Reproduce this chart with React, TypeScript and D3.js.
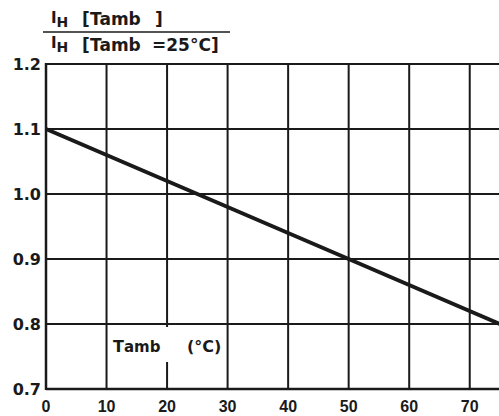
import * as d3 from "d3";

// temperature (°C) vs current ratio
const temps = [0, 25, 50, 75];
const ratio = [1.1, 1.0, 0.9, 0.8];
const xTicks = [0, 10, 20, 30, 40, 50, 60, 70];
const yTicks = [0.7, 0.8, 0.9, 1.0, 1.1, 1.2];

const W = 499;
const H = 416;
const font = "'Liberation Sans', Arial, sans-serif";
const wide = "'DejaVu Sans', sans-serif";

export default function App() {
  const x = d3.scaleLinear().domain([0, 75]).range([46, 500]);
  const y = d3.scaleLinear().domain([0.7, 1.2]).range([389, 64]);

  const line = d3
    .line<number>()
    .x((d, i) => x(temps[i]))
    .y(d => y(d));

  const ink = "#1a1a1a";

  return (
    <svg
      width={W}
      height={H}
      style={{ position: "absolute", left: 0, top: 0, background: "#fff" }}
      fontFamily={font}
      fontWeight={700}
    >
      {/* grid */}
      {xTicks.slice(1).map(t => (
        <line key={"gx" + t} x1={x(t)} x2={x(t)} y1={y(1.2)} y2={y(0.7)} stroke={ink} strokeWidth={2} />
      ))}
      {yTicks.slice(1).map(t => (
        <line key={"gy" + t} x1={x(0)} x2={W} y1={y(t)} y2={y(t)} stroke={ink} strokeWidth={2} />
      ))}
      {/* axes */}
      <line x1={x(0)} x2={x(0)} y1={y(1.2) - 1} y2={y(0.7) + 1} stroke={ink} strokeWidth={2.5} />
      <line x1={x(0)} x2={W} y1={y(0.7)} y2={y(0.7)} stroke={ink} strokeWidth={2.5} />

      {/* axis label box hides part of the grid */}
      <rect x={110} y={327} width={114} height={35} fill="#fff" />
      <text x={113} y={352} fontSize={16} fontFamily={wide} fill={ink}>
        T<tspan fontSize={15}>amb</tspan>
        <tspan x={187}>(°C)</tspan>
      </text>

      {/* data line */}
      <path d={line(ratio) ?? ""} fill="none" stroke={ink} strokeWidth={4} />

      {/* tick labels */}
      {yTicks.map(t => (
        <text key={"ty" + t} x={41} y={y(t)} dy="0.36em" textAnchor="end" fontSize={16} fontFamily={wide} fill={ink}>
          {t.toFixed(1)}
        </text>
      ))}
      {xTicks.map(t => (
        <text key={"tx" + t} x={x(t)} y={412} textAnchor="middle" fontSize={16} fill={ink}>
          {t}
        </text>
      ))}

      {/* y title as a fraction */}
      <g fontFamily={wide} fill={ink}>
        <text x={51} y={23} fontSize={15}>
          I<tspan fontSize={14} dy={4}>H</tspan>
          <tspan x={82} dy={-2} fontSize={17}>[</tspan>
          <tspan x={90} fontSize={17}>T</tspan>
          <tspan fontSize={17}>amb</tspan>
          <tspan x={155} fontSize={17}>]</tspan>
        </text>
        <line x1={43} x2={230} y1={32} y2={32} stroke={ink} strokeWidth={1.5} />
        <text x={51} y={48} fontSize={15}>
          I<tspan fontSize={14} dy={4}>H</tspan>
          <tspan x={82} dy={-1} fontSize={17}>[</tspan>
          <tspan x={90} fontSize={17}>T</tspan>
          <tspan fontSize={17}>amb</tspan>
          <tspan x={152} fontSize={17}>=25°C]</tspan>
        </text>
      </g>
    </svg>
  );
}
